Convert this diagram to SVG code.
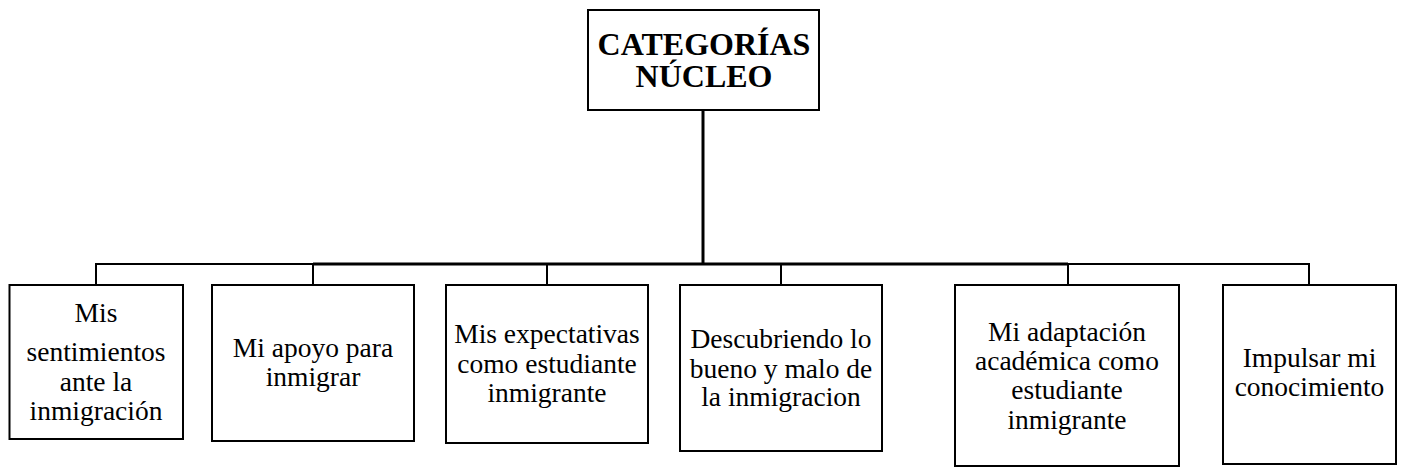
<svg xmlns="http://www.w3.org/2000/svg" width="1404" height="468" viewBox="0 0 1404 468">
<style>
.box{fill:#fff;stroke:#000;stroke-width:2}
.t{font-family:"Liberation Serif","Times New Roman",serif;font-size:27.5px;fill:#000;text-anchor:middle}
.h{font-family:"Liberation Serif","Times New Roman",serif;font-size:32px;font-weight:bold;fill:#000;text-anchor:middle}
.c{fill:none;stroke:#000;stroke-width:2}
.ck{fill:none;stroke:#000;stroke-width:3}
</style>
<rect width="1404" height="468" fill="#fff"/>
<g id="connectors">
<line class="ck" x1="703" y1="110" x2="703" y2="264"/>
<line class="ck" x1="313" y1="264" x2="1068" y2="264"/>
<polyline class="c" points="96,285 96,264 314,264"/>
<polyline class="c" points="1067,264 1309,264 1309,285"/>
<line class="c" x1="313" y1="264" x2="313" y2="285"/>
<line class="c" x1="547" y1="264" x2="547" y2="285"/>
<line class="c" x1="781" y1="264" x2="781" y2="285"/>
<line class="c" x1="1068" y1="264" x2="1068" y2="285"/>
</g>
<g id="root">
<rect class="box" x="588" y="10" width="231" height="100"/>
<text class="h" x="704" y="55">CATEGORÍAS</text>
<text class="h" x="704" y="87">NÚCLEO</text>
</g>
<g id="n1">
<rect class="box" x="9.5" y="285" width="173.5" height="154"/>
<text class="t" x="96" y="322">Mis</text>
<text class="t" x="96" y="361">sentimientos</text>
<text class="t" x="96" y="390.5">ante la</text>
<text class="t" x="96" y="420">inmigración</text>
</g>
<g id="n2">
<rect class="box" x="212" y="285" width="202" height="156"/>
<text class="t" x="313" y="357">Mi apoyo para</text>
<text class="t" x="313" y="386">inmigrar</text>
</g>
<g id="n3">
<rect class="box" x="446" y="285" width="202" height="158"/>
<text class="t" x="547" y="343">Mis expectativas</text>
<text class="t" x="547" y="372.5">como estudiante</text>
<text class="t" x="547" y="402">inmigrante</text>
</g>
<g id="n4">
<rect class="box" x="680" y="285" width="202" height="166"/>
<text class="t" x="781" y="348">Descubriendo lo</text>
<text class="t" x="781" y="377.5">bueno y malo de</text>
<text class="t" x="781" y="406">la inmigracion</text>
</g>
<g id="n5">
<rect class="box" x="955" y="285" width="224" height="181"/>
<text class="t" x="1067" y="341">Mi adaptación</text>
<text class="t" x="1067" y="370">académica como</text>
<text class="t" x="1067" y="399">estudiante</text>
<text class="t" x="1067" y="428.5">inmigrante</text>
</g>
<g id="n6">
<rect class="box" x="1223" y="285" width="173" height="179"/>
<text class="t" x="1309.5" y="367">Impulsar mi</text>
<text class="t" x="1309.5" y="396">conocimiento</text>
</g>
</svg>
